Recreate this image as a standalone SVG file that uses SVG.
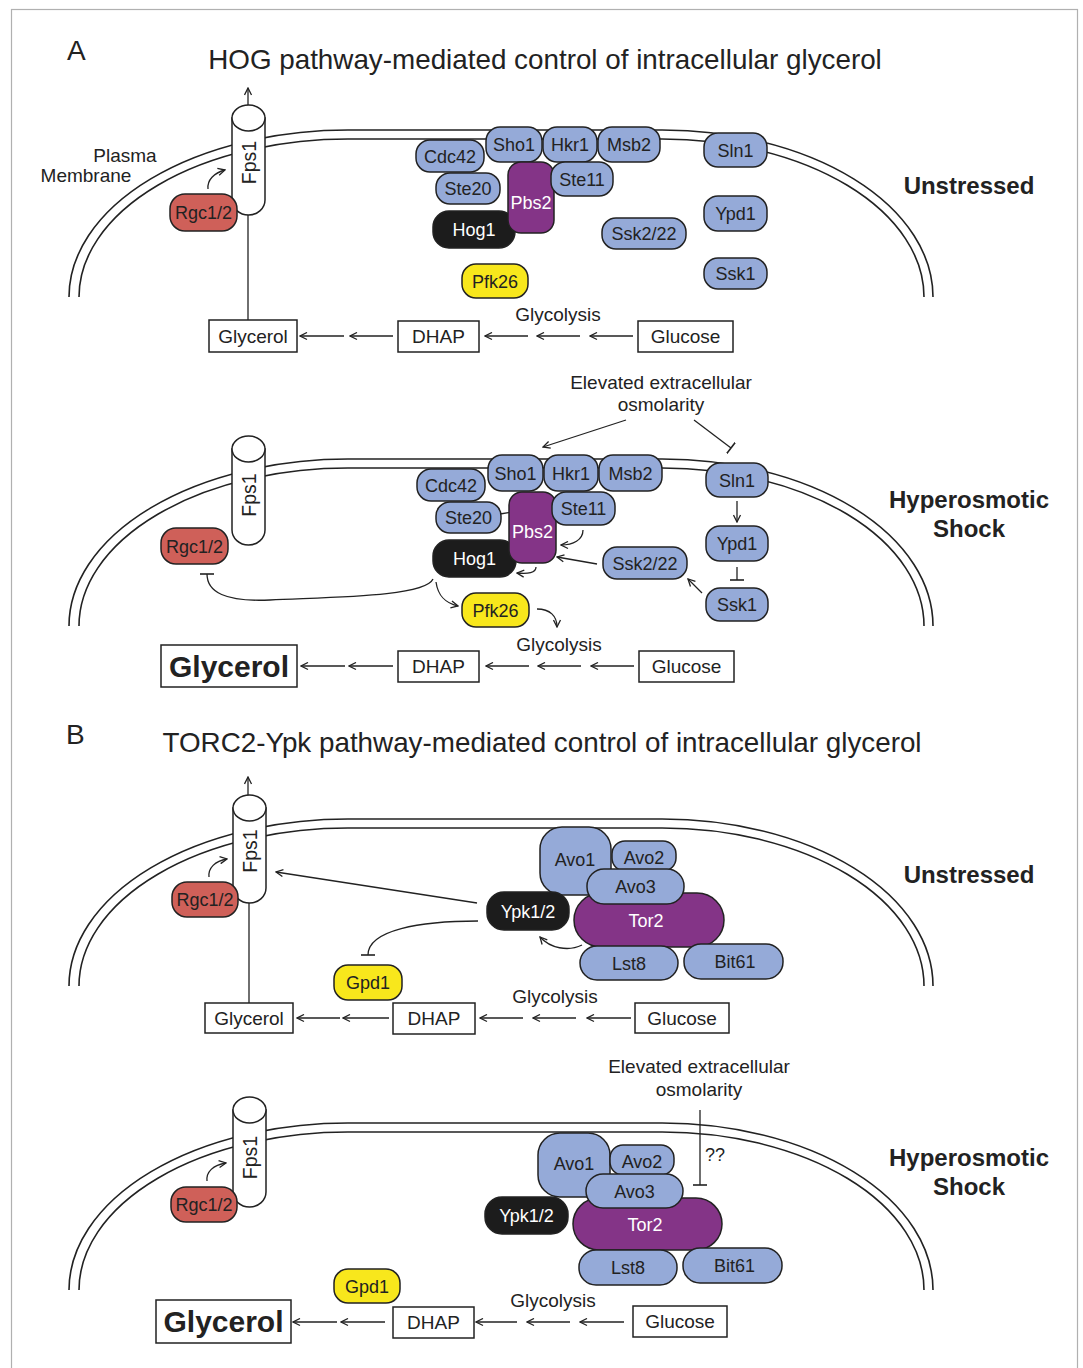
<svg xmlns="http://www.w3.org/2000/svg" xmlns:xlink="http://www.w3.org/1999/xlink" width="1083" height="1368" viewBox="0 0 1083 1368">
<style>
text{font-family:"Liberation Sans",Arial,Helvetica,sans-serif;fill:#222}
.n{font-size:18px;text-anchor:middle}
.f{font-size:19.5px;text-anchor:middle}
.w{fill:#fff}
.lbl{font-size:19px;text-anchor:middle}
.st{font-size:24px;font-weight:bold;text-anchor:middle}
.ttl{font-size:27.8px}
.big{font-size:30px;font-weight:bold;text-anchor:middle}
.blue{fill:#95aad8;stroke:#222;stroke-width:1.5}
.pur{fill:#843487;stroke:#222;stroke-width:1.5}
.blk{fill:#1c1c1c;stroke:#222;stroke-width:1.5}
.yel{fill:#f8e71c;stroke:#222;stroke-width:1.5}
.red{fill:#cf6059;stroke:#222;stroke-width:1.5}
.box{fill:#fff;stroke:#222;stroke-width:1.5}
.mem{fill:none;stroke:#222;stroke-width:1.6}
.cyl{fill:#fff;stroke:#222;stroke-width:1.5}
.c{fill:none;stroke:#222;stroke-width:1.3}
.a{marker-end:url(#arr)}
.t{marker-end:url(#tee)}
</style>
<defs>
<marker id="arr" viewBox="0 0 9 9" refX="8" refY="4.5" markerWidth="9" markerHeight="9" markerUnits="userSpaceOnUse" orient="auto">
<path d="M1,1 L8,4.5 L1,8" fill="none" stroke="#222" stroke-width="1.3"/>
</marker>
<marker id="tee" viewBox="0 0 4 14" refX="2" refY="7" markerWidth="4" markerHeight="14" markerUnits="userSpaceOnUse" orient="auto">
<path d="M2,0 L2,14" fill="none" stroke="#222" stroke-width="1.6"/>
</marker>
<g id="membrane">
<path class="mem" d="M69,297 A279,167 0 0 1 348,130 L662,130 A271,167 0 0 1 933,297"/>
<path class="mem" d="M79,297 A269,158 0 0 1 348,139 L662,139 A262,158 0 0 1 924,297"/>
</g>
</defs>
<rect x="0" y="0" width="1083" height="1368" fill="#fff"/>
<rect x="11.5" y="9.5" width="1066" height="1380" fill="none" stroke="#b0b0b0" stroke-width="1.2"/>

<g id="membranes">
<use xlink:href="#membrane" href="#membrane"/>
<use xlink:href="#membrane" href="#membrane" y="329"/>
<use xlink:href="#membrane" href="#membrane" y="689"/>
<use xlink:href="#membrane" href="#membrane" y="993"/>
</g>

<g id="labels">
<text x="67" y="60" style="font-size:28px">A</text>
<text class="ttl" x="545" y="69" text-anchor="middle">HOG pathway-mediated control of intracellular glycerol</text>
<text x="66" y="744" style="font-size:28px">B</text>
<text class="ttl" x="542" y="752" text-anchor="middle">TORC2-Ypk pathway-mediated control of intracellular glycerol</text>
<text class="lbl" x="125" y="162">Plasma</text>
<text class="lbl" x="86" y="182">Membrane</text>
<text class="st" x="969" y="194">Unstressed</text>
<text class="st" x="969" y="508">Hyperosmotic</text>
<text class="st" x="969" y="537">Shock</text>
<text class="st" x="969" y="883">Unstressed</text>
<text class="st" x="969" y="1166">Hyperosmotic</text>
<text class="st" x="969" y="1195">Shock</text>
<text class="lbl" x="558" y="321">Glycolysis</text>
<text class="lbl" x="559" y="651">Glycolysis</text>
<text class="lbl" x="555" y="1003">Glycolysis</text>
<text class="lbl" x="553" y="1307">Glycolysis</text>
<text class="lbl" x="661" y="389">Elevated extracellular</text>
<text class="lbl" x="661" y="411">osmolarity</text>
<text class="lbl" x="699" y="1073">Elevated extracellular</text>
<text class="lbl" x="699" y="1096">osmolarity</text>
<text x="705" y="1161" style="font-size:18px">??</text>
</g>

<g id="connectors">
<!-- A unstressed -->
<path class="c a" d="M248,123 L248,88"/>
<path class="c" d="M248,215 L248,320"/>
<path class="c a" d="M208,189 C207,180 214,173 225,170"/>
<path class="c a" d="M633,336 L590,336"/>
<path class="c a" d="M580,336 L537,336"/>
<path class="c a" d="M528,336 L485,336"/>
<path class="c a" d="M393,336 L350,336"/>
<path class="c a" d="M344,336 L300,336"/>
<!-- A hyperosmotic -->
<path class="c a" d="M626,420 L543,447"/>
<path class="c t" d="M694,420 L731,448"/>
<path class="c a" d="M500,514 L545,507"/>
<path class="c a" d="M583,530 C583,540 573,545 561,545"/>
<path class="c a" d="M597,564 L557,557"/>
<path class="c a" d="M536,567 C536,573 528,574 517,573"/>
<path class="c a" d="M737,501 L737,522"/>
<path class="c t" d="M737,567 L737,580"/>
<path class="c a" d="M702,593 L688,579"/>
<path class="c t" d="M433,579 C425,597 330,597 270,600 C225,602 207,592 207,574"/>
<path class="c a" d="M436,582 C438,596 445,603 458,606"/>
<path class="c a" d="M537,609 C550,609 557,616 557,627"/>
<path class="c a" d="M634,666 L591,666"/>
<path class="c a" d="M581,666 L538,666"/>
<path class="c a" d="M529,666 L486,666"/>
<path class="c a" d="M393,666 L349,666"/>
<path class="c a" d="M345,666 L301,666"/>
<!-- B unstressed -->
<path class="c a" d="M248,813 L248,777"/>
<path class="c" d="M249,903 L249,1003"/>
<path class="c a" d="M209,877 C208,868 215,861 227,859"/>
<path class="c a" d="M477,903 L276,872"/>
<path class="c t" d="M478,921 C420,921 368,930 368,955"/>
<path class="c a" d="M582,945 C568,952 550,948 540,937"/>
<path class="c a" d="M631,1018 L587,1018"/>
<path class="c a" d="M576,1018 L533,1018"/>
<path class="c a" d="M523,1018 L480,1018"/>
<path class="c a" d="M389,1018 L343,1018"/>
<path class="c a" d="M340,1018 L297,1018"/>
<!-- B hyperosmotic -->
<path class="c t" d="M700,1110 L700,1185"/>
<path class="c a" d="M207,1181 C206,1172 213,1165 226,1163"/>
<path class="c a" d="M624,1322 L580,1322"/>
<path class="c a" d="M570,1322 L527,1322"/>
<path class="c a" d="M517,1322 L476,1322"/>
<path class="c a" d="M385,1322 L341,1322"/>
<path class="c a" d="M337,1322 L293,1322"/>
</g>

<!-- ===== Panel A unstressed nodes ===== -->
<g id="A1-fps1">
<path class="cyl" d="M232,118 L232,200 A16.5,15 0 0 0 265,200 L265,118 Z"/>
<ellipse class="cyl" cx="248.5" cy="118" rx="16.5" ry="13"/>
<text class="f" transform="translate(248.5,162.5) rotate(-90)" y="7">Fps1</text>
</g>
<g id="A1-rgc"><rect class="red" x="170" y="194" width="67" height="37" rx="15"/><text class="n" x="203.5" y="219">Rgc1/2</text></g>
<g id="A1-cdc42"><rect class="blue" x="416" y="140" width="68" height="32" rx="14"/><text class="n" x="450" y="162.5">Cdc42</text></g>
<g id="A1-ste20"><rect class="blue" x="436" y="173" width="64" height="31" rx="14"/><text class="n" x="468" y="195">Ste20</text></g>
<g id="A1-sho1"><rect class="blue" x="486" y="127" width="56" height="35" rx="14"/><text class="n" x="514" y="151">Sho1</text></g>
<g id="A1-hkr1"><rect class="blue" x="543" y="127" width="54" height="35" rx="14"/><text class="n" x="570" y="151">Hkr1</text></g>
<g id="A1-msb2"><rect class="blue" x="598" y="127" width="62" height="35" rx="14"/><text class="n" x="629" y="151">Msb2</text></g>
<g id="A1-hog1"><rect class="blk" x="433" y="211" width="82" height="37" rx="16"/><text class="n w" x="474" y="236">Hog1</text></g>
<g id="A1-pbs2"><rect class="pur" x="508" y="162" width="46" height="71" rx="13"/><text class="n w" x="531" y="209">Pbs2</text></g>
<g id="A1-ste11"><rect class="blue" x="551" y="162" width="62" height="34" rx="14"/><text class="n" x="582" y="185.5">Ste11</text></g>
<g id="A1-pfk26"><rect class="yel" x="462" y="264" width="66" height="34" rx="14"/><text class="n" x="495" y="287.5">Pfk26</text></g>
<g id="A1-ssk222"><rect class="blue" x="602" y="218" width="84" height="31" rx="14"/><text class="n" x="644" y="240">Ssk2/22</text></g>
<g id="A1-sln1"><rect class="blue" x="704" y="133" width="63" height="34" rx="14"/><text class="n" x="735.5" y="156.5">Sln1</text></g>
<g id="A1-ypd1"><rect class="blue" x="704" y="196" width="63" height="35" rx="14"/><text class="n" x="735.5" y="220">Ypd1</text></g>
<g id="A1-ssk1"><rect class="blue" x="704" y="258" width="63" height="31" rx="14"/><text class="n" x="735.5" y="280">Ssk1</text></g>
<g id="A1-glycerol"><rect class="box" x="209" y="320" width="88" height="32"/><text class="lbl" x="253" y="342.5">Glycerol</text></g>
<g id="A1-dhap"><rect class="box" x="398" y="321" width="81" height="31"/><text class="lbl" x="438.5" y="343">DHAP</text></g>
<g id="A1-glucose"><rect class="box" x="638" y="321" width="95" height="31"/><text class="lbl" x="685.5" y="343">Glucose</text></g>

<!-- ===== Panel A hyperosmotic nodes ===== -->
<g id="A2-fps1">
<path class="cyl" d="M232,449 L232,530 A16.5,15 0 0 0 265,530 L265,449 Z"/>
<ellipse class="cyl" cx="248.5" cy="449" rx="16.5" ry="13"/>
<text class="f" transform="translate(248.5,495) rotate(-90)" y="7">Fps1</text>
</g>
<g id="A2-rgc"><rect class="red" x="161" y="528" width="67" height="36" rx="15"/><text class="n" x="194.5" y="552.5">Rgc1/2</text></g>
<g id="A2-cdc42"><rect class="blue" x="417" y="469" width="68" height="32" rx="14"/><text class="n" x="451" y="491.5">Cdc42</text></g>
<g id="A2-ste20"><rect class="blue" x="436" y="502" width="65" height="31" rx="14"/><text class="n" x="468.5" y="524">Ste20</text></g>
<g id="A2-sho1"><rect class="blue" x="488" y="455" width="55" height="36" rx="14"/><text class="n" x="515.5" y="479.5">Sho1</text></g>
<g id="A2-hkr1"><rect class="blue" x="544" y="455" width="54" height="36" rx="14"/><text class="n" x="571" y="479.5">Hkr1</text></g>
<g id="A2-msb2"><rect class="blue" x="599" y="455" width="63" height="36" rx="14"/><text class="n" x="630.5" y="479.5">Msb2</text></g>
<g id="A2-hog1"><rect class="blk" x="433" y="540" width="83" height="37" rx="16"/><text class="n w" x="474.5" y="565">Hog1</text></g>
<g id="A2-pbs2"><rect class="pur" x="509" y="492" width="47" height="71" rx="13"/><text class="n w" x="532.5" y="538">Pbs2</text></g>
<g id="A2-ste11"><rect class="blue" x="552" y="492" width="63" height="33" rx="14"/><text class="n" x="583.5" y="515">Ste11</text></g>
<g id="A2-pfk26"><rect class="yel" x="462" y="593" width="67" height="34" rx="14"/><text class="n" x="495.5" y="616.5">Pfk26</text></g>
<g id="A2-ssk222"><rect class="blue" x="603" y="547" width="84" height="32" rx="14"/><text class="n" x="645" y="569.5">Ssk2/22</text></g>
<g id="A2-sln1"><rect class="blue" x="706" y="463" width="62" height="34" rx="14"/><text class="n" x="737" y="486.5">Sln1</text></g>
<g id="A2-ypd1"><rect class="blue" x="706" y="526" width="62" height="35" rx="14"/><text class="n" x="737" y="550">Ypd1</text></g>
<g id="A2-ssk1"><rect class="blue" x="706" y="588" width="62" height="33" rx="14"/><text class="n" x="737" y="611">Ssk1</text></g>
<g id="A2-glycerol"><rect class="box" x="161" y="645" width="136" height="42"/><text class="big" x="229" y="676.5">Glycerol</text></g>
<g id="A2-dhap"><rect class="box" x="398" y="651" width="81" height="31"/><text class="lbl" x="438.5" y="673">DHAP</text></g>
<g id="A2-glucose"><rect class="box" x="639" y="651" width="95" height="31"/><text class="lbl" x="686.5" y="673">Glucose</text></g>

<!-- ===== Panel B unstressed nodes ===== -->
<g id="B1-fps1">
<path class="cyl" d="M233,808 L233,888 A16.5,15 0 0 0 266,888 L266,808 Z"/>
<ellipse class="cyl" cx="249.5" cy="808" rx="16.5" ry="13"/>
<text class="f" transform="translate(249.5,851) rotate(-90)" y="7">Fps1</text>
</g>
<g id="B1-rgc"><rect class="red" x="172" y="882" width="66" height="35" rx="15"/><text class="n" x="205" y="906">Rgc1/2</text></g>
<g id="B1-avo1"><rect class="blue" x="540" y="827" width="71" height="68" rx="22"/><text class="n" x="575" y="866">Avo1</text></g>
<g id="B1-avo2"><rect class="blue" x="612" y="841" width="64" height="30" rx="13"/><text class="n" x="644" y="864">Avo2</text></g>
<g id="B1-tor2"><rect class="pur" x="574" y="893" width="150" height="54" rx="27"/><text class="n w" x="646" y="926.5">Tor2</text></g>
<g id="B1-avo3"><rect class="blue" x="587" y="869" width="97" height="35" rx="17"/><text class="n" x="635.5" y="893">Avo3</text></g>
<g id="B1-lst8"><rect class="blue" x="580" y="946" width="98" height="34" rx="17"/><text class="n" x="629" y="969.5">Lst8</text></g>
<g id="B1-bit61"><rect class="blue" x="684" y="944" width="99" height="35" rx="17"/><text class="n" x="735" y="968">Bit61</text></g>
<g id="B1-ypk"><rect class="blk" x="487" y="892" width="82" height="38" rx="17"/><text class="n w" x="528" y="917.5">Ypk1/2</text></g>
<g id="B1-gpd1"><rect class="yel" x="334" y="965" width="68" height="35" rx="14"/><text class="n" x="368" y="989">Gpd1</text></g>
<g id="B1-glycerol"><rect class="box" x="205" y="1003" width="88" height="30"/><text class="lbl" x="249" y="1024.5">Glycerol</text></g>
<g id="B1-dhap"><rect class="box" x="393" y="1003" width="82" height="31"/><text class="lbl" x="434" y="1025">DHAP</text></g>
<g id="B1-glucose"><rect class="box" x="635" y="1003" width="94" height="30"/><text class="lbl" x="682" y="1024.5">Glucose</text></g>

<!-- ===== Panel B hyperosmotic nodes ===== -->
<g id="B2-fps1">
<path class="cyl" d="M233,1110 L233,1192 A16.5,15 0 0 0 266,1192 L266,1110 Z"/>
<ellipse class="cyl" cx="249.5" cy="1110" rx="16.5" ry="13"/>
<text class="f" transform="translate(249.5,1157.5) rotate(-90)" y="7">Fps1</text>
</g>
<g id="B2-rgc"><rect class="red" x="171" y="1187" width="66" height="35" rx="15"/><text class="n" x="204" y="1211">Rgc1/2</text></g>
<g id="B2-avo1"><rect class="blue" x="538" y="1133" width="72" height="64" rx="22"/><text class="n" x="574" y="1169.5">Avo1</text></g>
<g id="B2-avo2"><rect class="blue" x="610" y="1145" width="64" height="30" rx="13"/><text class="n" x="642" y="1167.5">Avo2</text></g>
<g id="B2-tor2"><rect class="pur" x="573" y="1198" width="149" height="52" rx="26"/><text class="n w" x="645" y="1231">Tor2</text></g>
<g id="B2-avo3"><rect class="blue" x="586" y="1174" width="97" height="34" rx="17"/><text class="n" x="634.5" y="1197.5">Avo3</text></g>
<g id="B2-lst8"><rect class="blue" x="579" y="1250" width="98" height="35" rx="17"/><text class="n" x="628" y="1274">Lst8</text></g>
<g id="B2-bit61"><rect class="blue" x="683" y="1248" width="99" height="35" rx="17"/><text class="n" x="734.5" y="1272">Bit61</text></g>
<g id="B2-ypk"><rect class="blk" x="485" y="1197" width="83" height="37" rx="17"/><text class="n w" x="526.5" y="1222">Ypk1/2</text></g>
<g id="B2-gpd1"><rect class="yel" x="334" y="1269" width="66" height="34" rx="14"/><text class="n" x="367" y="1292.5">Gpd1</text></g>
<g id="B2-glycerol"><rect class="box" x="156" y="1300" width="135" height="43"/><text class="big" x="223.5" y="1332">Glycerol</text></g>
<g id="B2-dhap"><rect class="box" x="393" y="1307" width="81" height="31"/><text class="lbl" x="433.5" y="1329">DHAP</text></g>
<g id="B2-glucose"><rect class="box" x="633" y="1306" width="94" height="31"/><text class="lbl" x="680" y="1328">Glucose</text></g>
</svg>
